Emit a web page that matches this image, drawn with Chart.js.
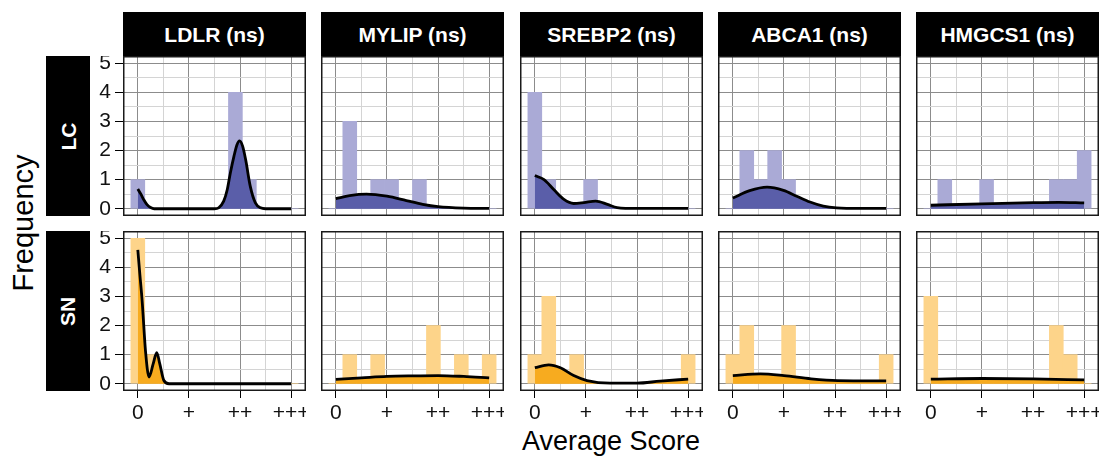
<!DOCTYPE html>
<html><head><meta charset="utf-8">
<script src="https://cdn.jsdelivr.net/npm/chart.js@4.4.1/dist/chart.umd.min.js"></script>
<style>
html,body{margin:0;padding:0;background:#fff;}
body{width:1107px;height:460px;position:relative;overflow:hidden;font-family:"Liberation Sans",Arial,Helvetica,sans-serif;}
.strip{position:absolute;background:#000;color:#fff;font-weight:bold;display:flex;align-items:center;justify-content:center;font-size:21px;line-height:1;}
.vstrip span{display:block;transform:rotate(-90deg);white-space:nowrap;}
.cv{position:absolute;}
.title{position:absolute;color:#000;white-space:nowrap;line-height:1;}
</style></head><body>
<script>
// ---------- data ----------
const genes = ["LDLR", "MYLIP", "SREBP2", "ABCA1", "HMGCS1"];
const significance = ["ns", "ns", "ns", "ns", "ns"];
const groups = ["LC", "SN"];
const xTickLabels = ["0", "+", "++", "+++"];
const yTickLabels = ["0", "1", "2", "3", "4", "5"];
const binCenters = [0, 0.273, 0.545, 0.818, 1.091, 1.364, 1.636, 1.909, 2.182, 2.455, 2.727, 3.0];

// histogram counts per bin
const LDLR_LC_counts   = [1, 0, 0, 0, 0, 0, 0, 4, 1, 0, 0, 0];
const MYLIP_LC_counts  = [0, 3, 0, 1, 1, 0, 1, 0, 0, 0, 0, 0];
const SREBP2_LC_counts = [4, 1, 0, 0, 1, 0, 0, 0, 0, 0, 0, 0];
const ABCA1_LC_counts  = [0, 2, 1, 2, 1, 0, 0, 0, 0, 0, 0, 0];
const HMGCS1_LC_counts = [0, 1, 0, 0, 1, 0, 0, 0, 0, 1, 1, 2];
const LDLR_SN_counts   = [5, 1, 0, 0, 0, 0, 0, 0, 0, 0, 0, 0];
const MYLIP_SN_counts  = [0, 1, 0, 1, 0, 0, 0, 2, 0, 1, 0, 1];
const SREBP2_SN_counts = [1, 3, 0, 1, 0, 0, 0, 0, 0, 0, 0, 1];
const ABCA1_SN_counts  = [1, 2, 0, 0, 2, 0, 0, 0, 0, 0, 0, 1];
const HMGCS1_SN_counts = [3, 0, 0, 0, 0, 0, 0, 0, 0, 2, 1, 0];

// density curves (scaled)
const LDLR_LC_densX   = [0, 0.06, 0.12, 0.18, 0.25, 0.32, 1.5, 1.58, 1.68, 1.75, 1.81, 1.88, 1.94, 1.99, 2.05, 2.11, 2.2, 2.3, 2.4, 2.5, 3.0];
const LDLR_LC_densY   = [0.68, 0.5, 0.3, 0.14, 0.04, 0, 0, 0.03, 0.26, 0.66, 1.23, 1.8, 2.2, 2.33, 2.15, 1.68, 0.77, 0.2, 0.03, 0, 0];
const MYLIP_LC_densX  = [0, 0.27, 0.6, 1.0, 1.38, 1.7, 2.0, 2.5, 3.0];
const MYLIP_LC_densY  = [0.35, 0.45, 0.5, 0.43, 0.28, 0.15, 0.07, 0.02, 0.01];
const SREBP2_LC_densX = [0, 0.18, 0.37, 0.57, 0.76, 0.96, 1.19, 1.42, 1.61, 2.0, 3.0];
const SREBP2_LC_densY = [1.14, 1.0, 0.66, 0.32, 0.18, 0.21, 0.26, 0.15, 0.04, 0.01, 0.01];
const ABCA1_LC_densX  = [0, 0.33, 0.67, 0.99, 1.25, 1.51, 1.77, 2.03, 2.5, 3.0];
const ABCA1_LC_densY  = [0.37, 0.62, 0.74, 0.63, 0.43, 0.23, 0.09, 0.03, 0.01, 0.01];
const HMGCS1_LC_densX = [0, 1.0, 2.0, 2.5, 3.0];
const HMGCS1_LC_densY = [0.12, 0.17, 0.21, 0.22, 0.2];
const LDLR_SN_densX   = [0, 0.04, 0.085, 0.15, 0.22, 0.3, 0.37, 0.43, 0.51, 0.61, 3.0];
const LDLR_SN_densY   = [4.6, 3.75, 2.84, 1.13, 0.23, 0.68, 1.07, 0.68, 0.11, 0, 0];
const MYLIP_SN_densX  = [0, 0.5, 1.0, 1.5, 2.0, 2.5, 3.0];
const MYLIP_SN_densY  = [0.15, 0.2, 0.25, 0.27, 0.28, 0.25, 0.2];
const SREBP2_SN_densX = [0, 0.27, 0.5, 0.76, 1.02, 1.47, 2.0, 2.45, 3.0];
const SREBP2_SN_densY = [0.55, 0.65, 0.55, 0.28, 0.11, 0.02, 0.02, 0.09, 0.16];
const ABCA1_SN_densX  = [0, 0.54, 1.0, 1.53, 2.05, 3.0];
const ABCA1_SN_densY  = [0.28, 0.34, 0.28, 0.17, 0.11, 0.1];
const HMGCS1_SN_densX = [0, 1.0, 2.0, 3.0];
const HMGCS1_SN_densY = [0.16, 0.18, 0.17, 0.13];

const panelData = {
  LDLR_LC: [LDLR_LC_counts, LDLR_LC_densX, LDLR_LC_densY],
  MYLIP_LC: [MYLIP_LC_counts, MYLIP_LC_densX, MYLIP_LC_densY],
  SREBP2_LC: [SREBP2_LC_counts, SREBP2_LC_densX, SREBP2_LC_densY],
  ABCA1_LC: [ABCA1_LC_counts, ABCA1_LC_densX, ABCA1_LC_densY],
  HMGCS1_LC: [HMGCS1_LC_counts, HMGCS1_LC_densX, HMGCS1_LC_densY],
  LDLR_SN: [LDLR_SN_counts, LDLR_SN_densX, LDLR_SN_densY],
  MYLIP_SN: [MYLIP_SN_counts, MYLIP_SN_densX, MYLIP_SN_densY],
  SREBP2_SN: [SREBP2_SN_counts, SREBP2_SN_densX, SREBP2_SN_densY],
  ABCA1_SN: [ABCA1_SN_counts, ABCA1_SN_densX, ABCA1_SN_densY],
  HMGCS1_SN: [HMGCS1_SN_counts, HMGCS1_SN_densX, HMGCS1_SN_densY]
};

// ---------- layout & style ----------
const colLeft = [123, 321, 520, 718, 916];
const rowTop = [56, 231];
const PW = 183, PH = 160, YW = 40, XH = 42;
const FONT = '"Liberation Sans", Arial, Helvetica, sans-serif';
const barColors = {LC: '#aaaad6', SN: '#fdd48a'};
const densColors = {LC: '#5a5ea9', SN: '#f7ab1f'};
const MAJOR = '#8c8c8c', MINOR = '#d4d4d4';
const xGrid = [0, 0.5, 1, 1.5, 2, 2.5, 3];
const yGrid = [0, 0.5, 1, 1.5, 2, 2.5, 3, 3.5, 4, 4.5, 5];
const isMajor = v => Math.abs(v - Math.round(v)) < 1e-6;

const frame = {
  id: 'frame',
  afterDraw(chart) {
    const a = chart.chartArea, c = chart.ctx;
    c.save();
    c.strokeStyle = '#1a1a1a';
    c.lineWidth = 1.5;
    c.strokeRect(a.left + 0.75, a.top + 0.75, a.right - a.left - 1.5, a.bottom - a.top - 1.5);
    c.restore();
  }
};

function addDiv(cls, text, css) {
  const d = document.createElement('div');
  d.className = cls;
  d.innerHTML = text;
  Object.assign(d.style, css);
  document.body.appendChild(d);
  return d;
}

// column strips
genes.forEach((g, c) => {
  addDiv('strip', '<span>' + g + ' (' + significance[c] + ')</span>', {
    left: colLeft[c] + 'px', top: '12px', width: PW + 'px', height: (rowTop[0] - 12) + 'px'
  });
});
// row strips
groups.forEach((grp, r) => {
  addDiv('strip vstrip', '<span>' + grp + '</span>', {
    left: '46px', top: rowTop[r] + 'px', width: '44px', height: PH + 'px'
  });
});
// axis titles
addDiv('title', 'Frequency', {left: '23px', top: '223px', fontSize: '29px', transform: 'translate(-50%,-50%) rotate(-90deg)'});
addDiv('title', 'Average Score', {left: '611px', top: '441px', fontSize: '27px', transform: 'translate(-50%,-50%)'});

function makePanel(r, c) {
  const grp = groups[r], gene = genes[c];
  const [counts, dx, dy] = panelData[gene + '_' + grp];
  const isLeft = c === 0, isBottom = r === rowTop.length - 1;
  const w = PW + (isLeft ? YW : 0), h = PH + (isBottom ? XH : 0);
  const cv = document.createElement('canvas');
  cv.className = 'cv';
  cv.width = w; cv.height = h;
  cv.style.width = w + 'px'; cv.style.height = h + 'px';
  cv.style.left = (colLeft[c] - (isLeft ? YW : 0)) + 'px';
  cv.style.top = rowTop[r] + 'px';
  document.body.appendChild(cv);

  const zeroPad = s => { s.paddingLeft = 0; s.paddingRight = 0; s.paddingTop = 0; s.paddingBottom = 0; };

  new Chart(cv, {
    type: 'bar',
    data: {
      datasets: [
        {
          type: 'line',
          data: dx.map((x, i) => ({x: x, y: dy[i]})),
          borderColor: '#000', borderWidth: 2.8,
          backgroundColor: densColors[grp], fill: 'origin',
          pointRadius: 0, cubicInterpolationMode: 'monotone', order: 0
        },
        {
          type: 'bar',
          data: binCenters.map((x, i) => ({x: x, y: counts[i]})),
          backgroundColor: barColors[grp], borderWidth: 0,
          barPercentage: 1, categoryPercentage: 1, order: 1
        }
      ]
    },
    options: {
      responsive: false, animation: false, devicePixelRatio: 1, events: [],
      layout: {padding: 0},
      plugins: {legend: {display: false}, tooltip: {enabled: false}},
      scales: {
        x: {
          type: 'linear', min: -0.29, max: 3.29, offset: false,
          afterBuildTicks: s => { s.ticks = xGrid.map(v => ({value: v})); },
          afterFit: s => { s.height = isBottom ? XH : 0; zeroPad(s); },
          grid: {
            offset: false, lineWidth: 1, drawTicks: isBottom, tickLength: 7,
            color: ctx => (ctx.tick && isMajor(ctx.tick.value)) ? MAJOR : MINOR,
            tickColor: ctx => (ctx.tick && isMajor(ctx.tick.value)) ? '#000' : 'rgba(0,0,0,0)'
          },
          border: {display: false},
          ticks: {
            display: isBottom, autoSkip: false, maxRotation: 0, minRotation: 0, padding: 3,
            color: '#111', font: {family: FONT, size: 21},
            callback: v => isMajor(v) ? xTickLabels[Math.round(v)] : ''
          }
        },
        y: {
          type: 'linear', min: -0.25, max: 5.25,
          afterBuildTicks: s => { s.ticks = yGrid.map(v => ({value: v})); },
          afterFit: s => { s.width = isLeft ? YW : 0; zeroPad(s); },
          grid: {
            lineWidth: 1, drawTicks: isLeft, tickLength: 8,
            color: ctx => (ctx.tick && isMajor(ctx.tick.value)) ? MAJOR : MINOR,
            tickColor: ctx => (ctx.tick && isMajor(ctx.tick.value)) ? '#000' : 'rgba(0,0,0,0)'
          },
          border: {display: false},
          ticks: {
            display: isLeft, autoSkip: false, padding: 4,
            color: '#111', font: {family: FONT, size: 21},
            callback: v => isMajor(v) ? yTickLabels[Math.round(v)] : ''
          }
        }
      }
    },
    plugins: [frame]
  });
}

for (let r = 0; r < groups.length; r++)
  for (let c = 0; c < genes.length; c++)
    makePanel(r, c);
</script>
</body></html>
